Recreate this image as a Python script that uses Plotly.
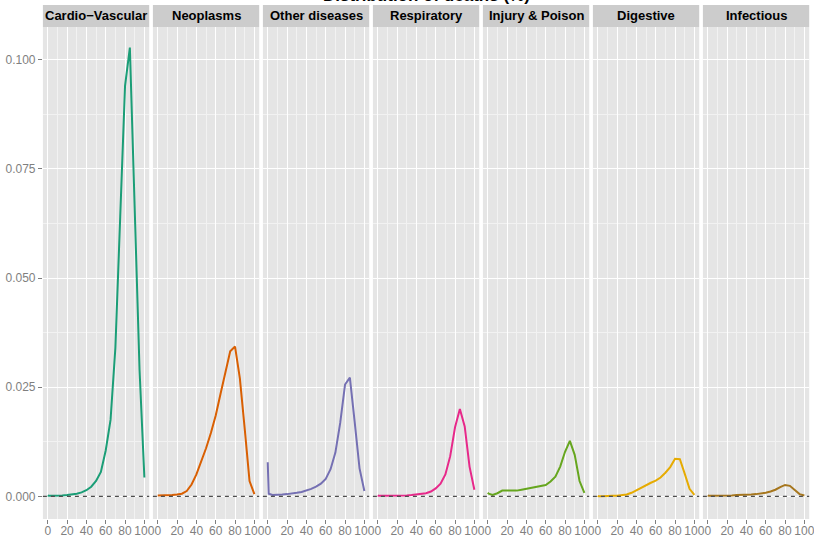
import plotly.graph_objects as go

# Age groups (start of each band) and the share of deaths per cause
ages = [0, 1, 5, 10, 15, 20, 25, 30, 35, 40, 45, 50, 55, 60, 65, 70, 75, 80, 85, 90, 95, 100]

causes = ["Cardio\u2212Vascular", "Neoplasms", "Other diseases", "Respiratory",
          "Injury & Poison", "Digestive", "Infectious"]
colors = ["#1B9E77", "#D95F02", "#7570B3", "#E7298A", "#66A61E", "#E6AB02", "#A6761D"]

cardio = [0.0002, 0.0001, 0.0001, 0.0001, 0.0002, 0.0003, 0.0004, 0.0006, 0.0009, 0.0014, 0.0022,
          0.0035, 0.0056, 0.0105, 0.0175, 0.0340, 0.0640, 0.0940, 0.1028, 0.0640, 0.0290, 0.0043]
neoplasms = [0.0002, 0.0002, 0.0002, 0.0002, 0.0003, 0.0004, 0.0006, 0.0012, 0.0027, 0.0050, 0.0078,
             0.0110, 0.0145, 0.0185, 0.0235, 0.0285, 0.0332, 0.0343, 0.0270, 0.0155, 0.0035, 0.0005]
other = [0.0078, 0.0006, 0.0003, 0.0003, 0.0004, 0.0005, 0.0006, 0.0008, 0.0010, 0.0013, 0.0017,
         0.0022, 0.0029, 0.0040, 0.0062, 0.0100, 0.0168, 0.0256, 0.0272, 0.0170, 0.0064, 0.0012]
respiratory = [0.0002, 0.0001, 0.0001, 0.0001, 0.0001, 0.0001, 0.0002, 0.0002, 0.0003, 0.0004, 0.0005,
               0.0007, 0.0011, 0.0018, 0.0029, 0.0050, 0.0092, 0.0158, 0.0200, 0.0160, 0.0068, 0.0015]
injury = [0.0008, 0.0006, 0.0003, 0.0007, 0.0013, 0.0013, 0.0012, 0.0013, 0.0015, 0.0017, 0.0019,
          0.0021, 0.0023, 0.0026, 0.0034, 0.0045, 0.0068, 0.0102, 0.0127, 0.0095, 0.0035, 0.0008]
digestive = [0.0001, 0.0000, 0.0000, 0.0001, 0.0001, 0.0001, 0.0002, 0.0004, 0.0008, 0.0014, 0.0020,
             0.0026, 0.0031, 0.0036, 0.0043, 0.0054, 0.0067, 0.0086, 0.0085, 0.0052, 0.0017, 0.0003]
infectious = [0.0002, 0.0001, 0.0001, 0.0001, 0.0001, 0.0002, 0.0002, 0.0003, 0.0003, 0.0004, 0.0004,
              0.0005, 0.0006, 0.0008, 0.0011, 0.0015, 0.0021, 0.0026, 0.0024, 0.0014, 0.0005, 0.0002]

series = [cardio, neoplasms, other, respiratory, injury, digestive, infectious]

x_ticks = [0, 20, 40, 60, 80, 100]
y_ticks = [0.0, 0.025, 0.05, 0.075, 0.1]
y_ticktext = ["0.000", "0.025", "0.050", "0.075", "0.100"]
title_text = "Distribution of deaths (%)"

W, H = 814, 537
FONT = "Liberation Sans, Arial, sans-serif"
GREY_TXT = "#7F7F7F"

# facet geometry (pixels)
left0, panel_w, step = 42.9, 106.3, 110.0
panel_top, panel_bot, strip_top = 27, 519, 5

fig = go.Figure()
layout = dict(
    width=W, height=H,
    margin=dict(l=0, r=0, t=0, b=0, autoexpand=False),
    paper_bgcolor="white",
    plot_bgcolor="#E5E5E5",
    showlegend=False,
    font=dict(family=FONT, size=12, color=GREY_TXT),
)
shapes, annotations = [], []

ydom = [(H - panel_bot) / H, (H - panel_top) / H]

for i, (name, vals, col) in enumerate(zip(causes, series, colors)):
    k = "" if i == 0 else str(i + 1)
    xl = left0 + i * step
    xr = xl + panel_w
    fig.add_trace(go.Scatter(
        x=ages, y=vals, mode="lines",
        line=dict(color=col, width=2),
        xaxis="x" + k, yaxis="y" + k, hoverinfo="x+y", name=name,
    ))
    layout["xaxis" + k] = dict(
        domain=[xl / W, xr / W], anchor="y" + k, automargin=False,
        range=[-5, 105], tickmode="array", tickvals=x_ticks,
        ticks="outside", ticklen=4, tickwidth=1, tickcolor=GREY_TXT,
        tickangle=0, tickfont=dict(size=12, color=GREY_TXT),
        ticklabelstandoff=-3, ticklabeloverflow="allow",
        showgrid=True, gridcolor="white", gridwidth=1.1,
        minor=dict(tickvals=[10, 30, 50, 70, 90], showgrid=True,
                   gridcolor="#F2F2F2", gridwidth=0.6, ticks=""),
        zeroline=False, showline=False, fixedrange=True,
    )
    yax = dict(
        domain=ydom, anchor="x" + k, automargin=False,
        range=[-0.0052, 0.1075], tickmode="array", tickvals=y_ticks,
        showgrid=True, gridcolor="white", gridwidth=1.1,
        minor=dict(tickvals=[0.0125, 0.0375, 0.0625, 0.0875], showgrid=True,
                   gridcolor="#F2F2F2", gridwidth=0.6, ticks=""),
        zeroline=False, showline=False, fixedrange=True,
    )
    if i == 0:
        yax.update(ticktext=y_ticktext, ticks="outside", ticklen=4, tickwidth=1,
                   tickcolor=GREY_TXT, tickfont=dict(size=12, color=GREY_TXT))
    else:
        yax.update(showticklabels=False, ticks="", matches="y")
    layout["yaxis" + k] = yax

    # dashed reference line at zero
    shapes.append(dict(
        type="line", xref="x" + k + " domain", yref="y" + k,
        x0=0, x1=1, y0=0, y1=0,
        line=dict(color="#4D4D4D", width=1.3, dash="4px,4px"), layer="above",
    ))
    # facet strip
    shapes.append(dict(
        type="rect", xref="paper", yref="paper",
        x0=xl / W, x1=xr / W, y0=(H - panel_top) / H, y1=(H - strip_top) / H,
        fillcolor="#CCCCCC", line=dict(width=0), layer="below",
    ))
    annotations.append(dict(
        text="<b>%s</b>" % name, xref="paper", yref="paper",
        x=(xl + xr) / 2 / W, y=(H - (panel_top + strip_top) / 2) / H,
        xanchor="center", yanchor="middle", showarrow=False,
        font=dict(family=FONT, size=13, color="black"),
    ))

# overall title, sitting at the very top edge
annotations.append(dict(
    text="<b>%s</b>" % title_text, xref="paper", yref="paper",
    x=(left0 + 6 * step + panel_w + left0) / 2 / W, y=1, yshift=-7,
    xanchor="center", yanchor="bottom", showarrow=False,
    font=dict(family=FONT, size=17, color="black"),
))

layout["shapes"] = shapes
layout["annotations"] = annotations
fig.update_layout(**layout)
fig.write_html("out.html")
